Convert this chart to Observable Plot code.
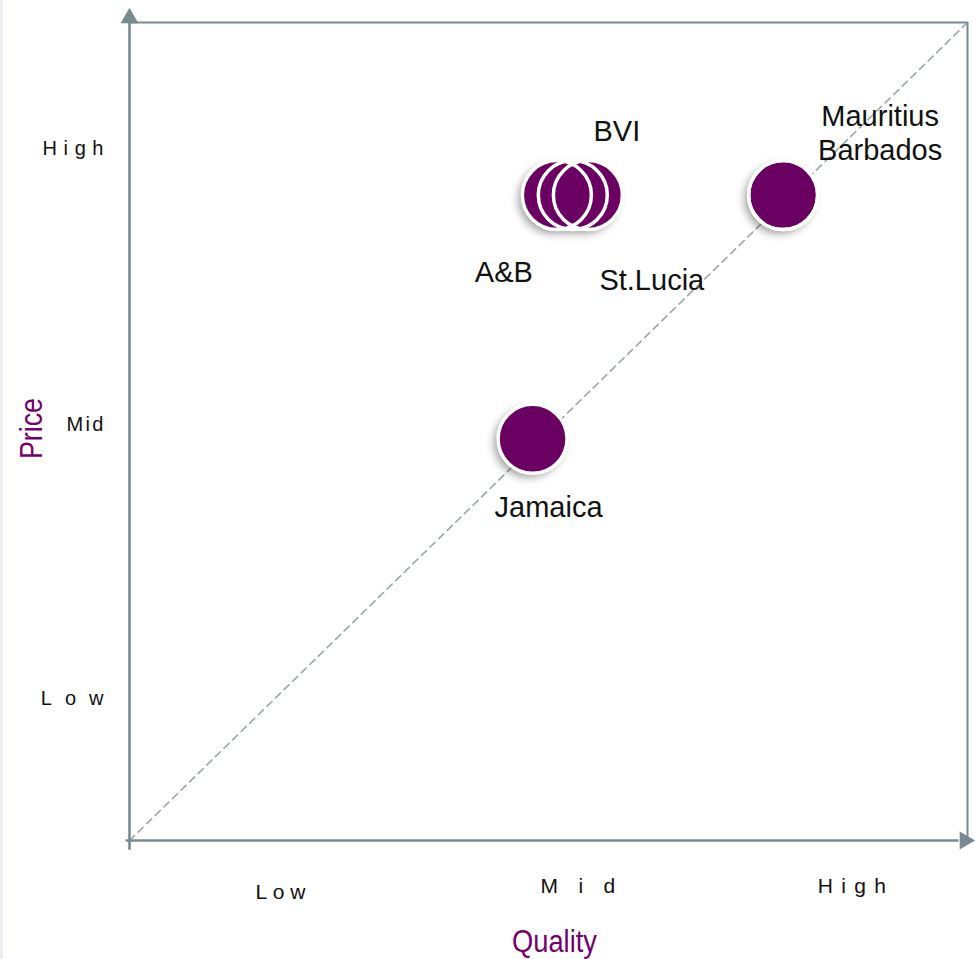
<!DOCTYPE html>
<html>
<head>
<meta charset="utf-8">
<script src="https://cdn.jsdelivr.net/npm/d3@7"></script>
<script src="https://cdn.jsdelivr.net/npm/@observablehq/plot@0.6"></script>
<style>
  html, body { margin: 0; padding: 0; }
  body {
    width: 975px; height: 959px; overflow: hidden;
    background: linear-gradient(to right, #eceef1 0 3px, #ffffff 3px);
  }
  #chart svg { display: block; }
</style>
</head>
<body>
<div id="chart"></div>
<script>
// Destinations positioned by perceived quality (x) and price (y), 0–100 scale
const countries = ["A&B", "St.Lucia", "BVI", "Mauritius", "Barbados", "Jamaica"];
const quality   = [51.0, 52.9, 54.7, 78.0, 78.0, 48.1];
const price     = [78.9, 78.9, 78.9, 78.9, 78.9, 49.1];

// Axis bands
const qualityTickValues = [18.0, 53.5, 86.2];
const qualityTickLabels = ["Low", "Mid", "High"];
const priceTickValues   = [17.4, 50.9, 84.6];
const priceTickLabels   = ["Low", "Mid", "High"];

const points = countries.map((name, i) => ({name, quality: quality[i], price: price[i]}));
const domain = [0, 100];

// Styling
const purple = "#6b0063";
const titlePurple = "#74006c";
const axisGrey = "#7a8a91";
const labelFont = "'Liberation Sans', Arial, sans-serif";

// Label placement (pixel offsets from each bubble centre)
const labelOffset = {
  "A&B":      [-53, 78],
  "St.Lucia": [79, 86],
  "BVI":      [29, -63],
  "Mauritius":[97, -78],
  "Barbados": [97, -44],
  "Jamaica":  [16, 69]
};
// Tick-label letter spacing and vertical placement
const xSpacing = {Low: 5.7, Mid: 20.5, High: 8.3};
const ySpacing = {Low: 13, Mid: 2.4, High: 6.6};
const xTickDy  = {Low: 52, Mid: 46, High: 46};

const marks = [
  // parity diagonal
  Plot.line(domain, {x: d => d, y: d => d, stroke: "#9aa6ab", strokeWidth: 1.6, strokeDasharray: "7,5"}),
  // frame top/right
  Plot.ruleY([domain[1]], {stroke: axisGrey, strokeWidth: 2}),
  Plot.ruleX([domain[1]], {stroke: axisGrey, strokeWidth: 2}),
  // axes
  Plot.ruleX([domain[0]], {y1: -1.2, y2: 100, stroke: axisGrey, strokeWidth: 2.6}),
  Plot.ruleY([domain[0]], {x1: -0.4, x2: 99, stroke: axisGrey, strokeWidth: 2.6}),
  // arrow heads
  Plot.dot([domain[0]], {x: d => d, y: () => 100.55, symbol: "triangle", r: 6.6, fill: axisGrey, stroke: "none"}),
  Plot.dot([domain[0]], {x: () => 99.68, y: d => d, symbol: "triangle", r: 6.6, rotate: 90, fill: axisGrey, stroke: "none"}),
  // bubbles: fills, then white outlines on top
  Plot.dot(points, {x: "quality", y: "price", r: 34.5, fill: purple, stroke: "none", ariaDescription: "bubble-fill"}),
  Plot.dot(points, {x: "quality", y: "price", r: 34.5, fill: "none", stroke: "white", strokeWidth: 3.5}),
  // bubble labels
  ...points.map(p => Plot.text([p], {
    x: "quality", y: "price", text: "name",
    dx: labelOffset[p.name][0], dy: labelOffset[p.name][1],
    fontSize: 29, fill: "#111", fontFamily: labelFont
  })),
  // x tick labels
  ...qualityTickLabels.map((label, i) => Plot.text([label], {
    x: () => qualityTickValues[i], frameAnchor: "bottom", text: d => d,
    textAnchor: "middle", lineAnchor: "middle",
    dy: xTickDy[label], dx: xSpacing[label] / 2,
    fontSize: 21, fill: "#111", fontFamily: labelFont, ariaDescription: "xtick-" + label
  })),
  // y tick labels
  ...priceTickLabels.map((label, i) => Plot.text([label], {
    y: () => priceTickValues[i], frameAnchor: "left", text: d => d,
    textAnchor: "end", lineAnchor: "middle", dx: -26 + ySpacing[label],
    fontSize: 20, fill: "#111", fontFamily: labelFont, ariaDescription: "ytick-" + label
  })),
  // axis titles
  Plot.text(["Quality"], {frameAnchor: "bottom", text: d => d, textAnchor: "middle", lineAnchor: "middle",
    dx: 6, dy: 102, fontSize: 31, fill: titlePurple, fontFamily: labelFont, ariaDescription: "title-x"}),
  Plot.text(["Price"], {frameAnchor: "left", text: d => d, textAnchor: "middle", lineAnchor: "middle",
    rotate: -90, dx: -97, dy: -3, fontSize: 31, fill: titlePurple, fontFamily: labelFont, ariaDescription: "title-y"})
];

const chart = Plot.plot({
  width: 975,
  height: 959,
  marginLeft: 129,
  marginRight: 8,
  marginTop: 22,
  marginBottom: 119,
  x: {domain, axis: null},
  y: {domain, axis: null},
  style: {background: "transparent", fontFamily: labelFont, overflow: "visible"},
  marks
});

// letter spacing for the tick labels, condensed axis titles, soft shadow under the bubbles
const svg = d3.select(chart);
for (const label of qualityTickLabels) svg.select(`g[aria-description="xtick-${label}"]`).style("letter-spacing", xSpacing[label] + "px");
for (const label of priceTickLabels) svg.select(`g[aria-description="ytick-${label}"]`).style("letter-spacing", ySpacing[label] + "px");
svg.select('g[aria-description="title-x"] text').attr("textLength", 85).attr("lengthAdjust", "spacingAndGlyphs");
svg.select('g[aria-description="title-y"] text').attr("textLength", 61).attr("lengthAdjust", "spacingAndGlyphs");
svg.select('g[aria-description="bubble-fill"]').style("filter", "drop-shadow(-4px 4px 4px rgba(0,0,0,0.38))");

document.getElementById("chart").appendChild(chart);
</script>
</body>
</html>
